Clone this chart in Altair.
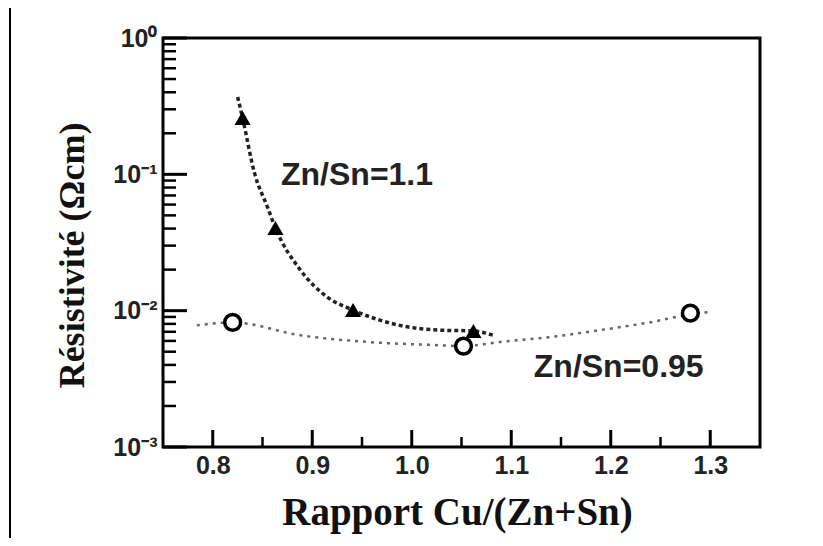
import altair as alt
import pandas as pd

# ---- data ----
tri_x = [0.830, 0.863, 0.941, 1.062]
tri_y = [0.259, 0.0404, 0.0101, 0.0071]

circ_x = [0.820, 1.052, 1.280]
circ_y = [0.0082, 0.0055, 0.0096]

fit1_x = [0.825, 0.830, 0.842, 0.855, 0.863, 0.888, 0.915, 0.941, 0.988, 1.028, 1.062, 1.082]
fit1_y = [0.369, 0.259, 0.102, 0.0575, 0.0404, 0.0199, 0.0126, 0.0101, 0.0078, 0.0072, 0.0071, 0.0066]

fit2_x = [0.784, 0.820, 0.888, 0.955, 1.021, 1.052, 1.089, 1.139, 1.189, 1.239, 1.280, 1.300]
fit2_y = [0.0078, 0.0082, 0.0066, 0.0059, 0.0056, 0.0055, 0.0059, 0.0064, 0.0072, 0.0082, 0.0094, 0.0098]

label_text = ["Zn/Sn=1.1", "Zn/Sn=0.95"]
label_x = [0.945, 1.208]
label_y = [0.0835, 0.00326]

x_major = [0.8, 0.9, 1.0, 1.1, 1.2, 1.3]
x_minor = [0.85, 0.95, 1.05, 1.15, 1.25]
y_major = [0.001, 0.01, 0.1, 1.0]
y_minor = [0.002, 0.003, 0.004, 0.005, 0.006, 0.007, 0.008, 0.009,
           0.02, 0.03, 0.04, 0.05, 0.06, 0.07, 0.08, 0.09,
           0.2, 0.3, 0.4, 0.5, 0.6, 0.7, 0.8, 0.9]

# ---- tables ----
df_tri = pd.DataFrame({"x": tri_x, "y": tri_y})
df_circ = pd.DataFrame({"x": circ_x, "y": circ_y})
df_fit1 = pd.DataFrame({"x": fit1_x, "y": fit1_y})
df_fit2 = pd.DataFrame({"x": fit2_x, "y": fit2_y})
df_lab = pd.DataFrame({"x": label_x, "y": label_y, "t": label_text})
df_xmaj = pd.DataFrame({"x": x_major})
df_xmin = pd.DataFrame({"x": x_minor})
df_ymaj = pd.DataFrame({"y": y_major})
df_ymin = pd.DataFrame({"y": y_minor})
df_one = pd.DataFrame({"a": [0]})

W, H = 597, 409
xs = alt.Scale(domain=[0.75, 1.35], nice=False, zero=False)
ys = alt.Scale(type="log", domain=[0.001, 1], nice=False)

lab_expr = ("datum.value > 0.5 ? '10⁰' : datum.value > 0.05 ? '10⁻¹' : "
            "datum.value > 0.005 ? '10⁻²' : '10⁻³'")

x_axis = alt.Axis(values=x_major, format=".1f", ticks=False, domain=False, grid=False,
                  labelFont="Liberation Sans", labelFontWeight="bold", labelFontSize=25,
                  labelColor="#222", labelPadding=6,
                  title="Rapport Cu/(Zn+Sn)", titleFont="Liberation Serif",
                  titleFontWeight="bold", titleFontSize=39, titleColor="#111",
                  titleX=294, titleY=65, titleBaseline="middle", titleAlign="center")
y_axis = alt.Axis(values=y_major, labelExpr=lab_expr, ticks=False, domain=False, grid=False,
                  labelFont="Liberation Sans", labelFontWeight="bold", labelFontSize=25,
                  labelColor="#222", labelPadding=6,
                  title="Résistivité (Ωcm)", titleFont="Liberation Serif",
                  titleFontWeight="bold", titleFontSize=36, titleColor="#111",
                  titleX=-91, titleY=217, titleAngle=270, titleBaseline="middle",
                  titleAlign="center")

X = alt.X("x:Q", scale=xs, axis=x_axis)
Y = alt.Y("y:Q", scale=ys, axis=y_axis)

fit2 = alt.Chart(df_fit2).mark_line(
    color="#666", strokeWidth=2.5, strokeDash=[3, 5], interpolate="monotone"
).encode(x=X, y=Y)

fit1 = alt.Chart(df_fit1).mark_line(
    color="#222", strokeWidth=3.5, strokeDash=[4, 3], interpolate="monotone"
).encode(x=X, y=Y)

tri = alt.Chart(df_tri).mark_point(
    shape="triangle-up", filled=True, color="black", size=260, opacity=1
).encode(x=X, y=Y)

circ = alt.Chart(df_circ).mark_point(
    shape="circle", filled=False, stroke="black", fill="white", fillOpacity=1,
    strokeWidth=3.5, size=250, opacity=1
).encode(x=X, y=Y)

labels = alt.Chart(df_lab).mark_text(
    font="Liberation Sans", fontWeight="bold", fontSize=32, color="#222",
    align="center", baseline="alphabetic"
).encode(x=X, y=Y, text="t:N")

ymaj = alt.Chart(df_ymaj).mark_rule(color="black", strokeWidth=3).encode(
    y=Y, x=alt.value(0), x2=alt.value(24))
ymin = alt.Chart(df_ymin).mark_rule(color="black", strokeWidth=2.5).encode(
    y=Y, x=alt.value(0), x2=alt.value(13))
xmaj = alt.Chart(df_xmaj).mark_rule(color="black", strokeWidth=3).encode(
    x=X, y=alt.value(H), y2=alt.value(H - 17))
xmin = alt.Chart(df_xmin).mark_rule(color="black", strokeWidth=2.5).encode(
    x=X, y=alt.value(H), y2=alt.value(H - 10))

# outer picture border (left edge)
border_left = alt.Chart(df_one).mark_rule(color="black", strokeWidth=2).encode(
    x=alt.value(-153), y=alt.value(-40), y2=alt.value(503))

chart = alt.layer(
    fit2, fit1, ymin, ymaj, xmin, xmaj, circ, tri, labels, border_left
).properties(
    width=W, height=H,
    autosize=alt.AutoSizeParams(type="none"),
    padding={"left": 155, "top": 30, "right": 55, "bottom": 91},
    background="white"
).configure_view(stroke="black", strokeWidth=3)

chart.save("out.html", embed_options={"renderer": "svg", "actions": False})
